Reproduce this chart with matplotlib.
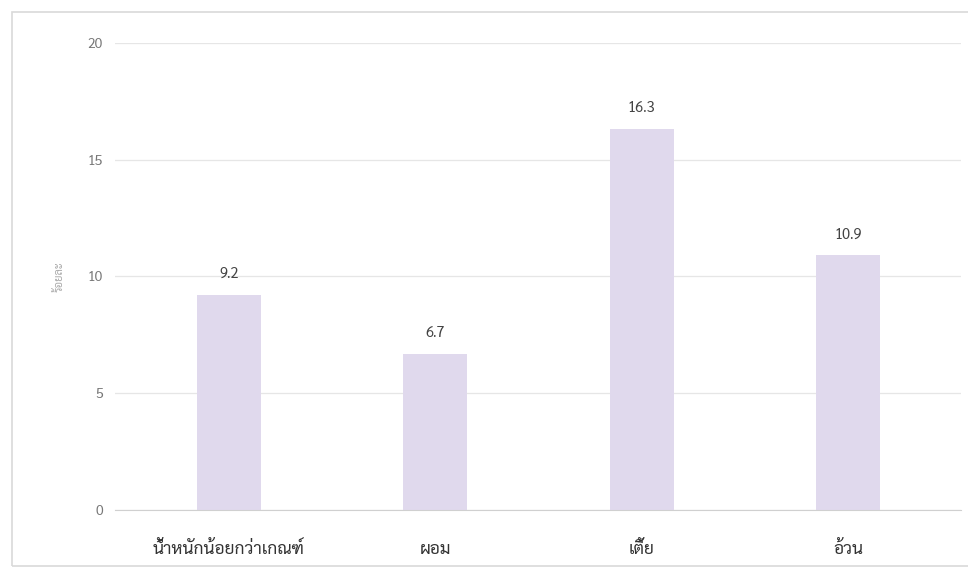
import matplotlib
matplotlib.use("Agg")
import matplotlib.pyplot as plt
from matplotlib.patches import Rectangle

# ข้อมูล (ร้อยละ)
categories = ["น้ำหนักน้อยกว่าเกณฑ์", "ผอม", "เตี้ย", "อ้วน"]
values = [9.2, 6.7, 16.3, 10.9]
y_ticks = [0, 5, 10, 15, 20]

plt.rcParams['font.family'] = ['Sarabun', 'DejaVu Sans']

fig = plt.figure(figsize=(9.68, 5.7), dpi=100)
ax = fig.add_axes([0.1193, 0.1053, 0.8738, 0.8193])

# กรอบด้านนอก
fig.patches.append(Rectangle((0.012, 0.007), 0.99, 0.972, transform=fig.transFigure,
                             fill=False, edgecolor='#d9d9d9', linewidth=1.2))

x = list(range(len(categories)))
bars = ax.bar(x, values, width=0.31, color='#e0d9ed', zorder=2)

for b, v in zip(bars, values):
    ax.annotate(f"{v}", (b.get_x() + b.get_width() / 2, v), xytext=(0, 10),
                textcoords='offset points', ha='center', va='bottom',
                fontsize=10.5, color='#444444')

ax.set_xlim(-0.55, 3.55)
ax.set_ylim(0, 20)
ax.set_yticks(y_ticks)
ax.set_xticks(x)
ax.set_xticklabels(categories, fontsize=12.5, color='#333333')
ax.tick_params(axis='y', length=0, pad=9, labelsize=10, labelcolor='#777777')
ax.tick_params(axis='x', length=0, pad=22)
ax.grid(axis='y', color='#e6e6e6', linewidth=0.9, zorder=0)
for s in ['top', 'right', 'left']:
    ax.spines[s].set_visible(False)
ax.spines['bottom'].set_color('#d0d0d0')
ax.set_ylabel("ร้อยละ", fontsize=8, color='#aaaaaa', labelpad=16)

fig.savefig("out.png")
